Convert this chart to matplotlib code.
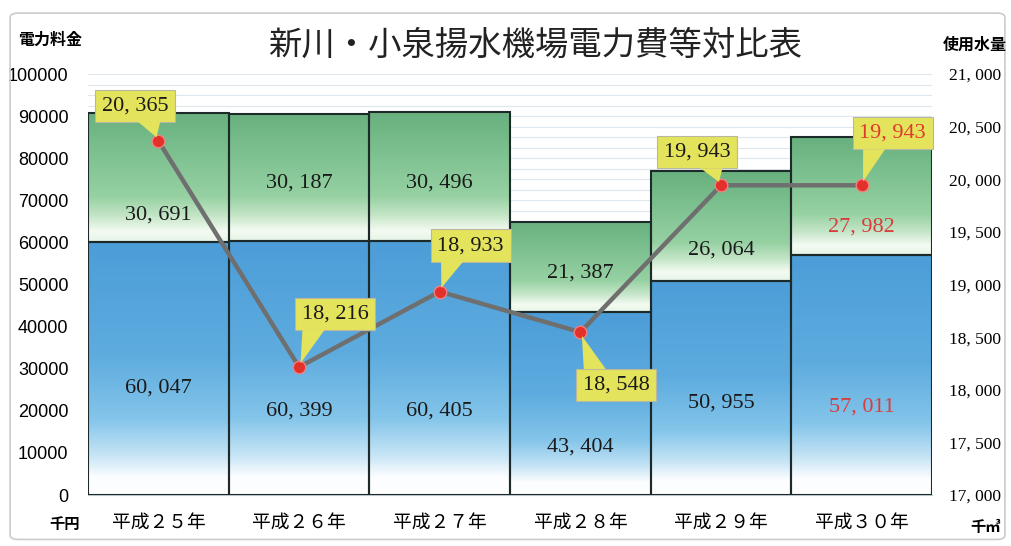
import numpy as np
import matplotlib
matplotlib.use('Agg')
import matplotlib.pyplot as plt
from matplotlib.colors import LinearSegmentedColormap
from matplotlib.patches import FancyBboxPatch, Polygon
from matplotlib.transforms import IdentityTransform

plt.rcParams['font.family'] = ['Noto Sans CJK JP', 'DejaVu Sans']

# ---------------- data ----------------
years = ['平成２５年', '平成２６年', '平成２７年', '平成２８年', '平成２９年', '平成３０年']
power_base = [60047, 60399, 60405, 43404, 50955, 57011]
power_extra = [30691, 30187, 30496, 21387, 26064, 27982]
water = [20365, 18216, 18933, 18548, 19943, 19943]
left_ticks = [0, 10000, 20000, 30000, 40000, 50000, 60000, 70000, 80000, 90000, 100000]
right_ticks = [17000, 17500, 18000, 18500, 19000, 19500, 20000, 20500, 21000]
title = '新川・小泉揚水機場電力費等対比表'

# ---------------- layout ----------------
base_label_y = [25500, 20000, 20000, 11400, 21800, 20900]
extra_label_y = [66500, 74100, 74100, 52700, 58200, 63700]
callout_offsets = [(-23, 35), (36, 53), (31, 46), (36, -53), (-24, 33), (31, 52)]
label_colors = ['#1a1a1a'] * 5 + ['#d83c3c']
callout_colors = ['#1a1a1a'] * 5 + ['#e03a2e']
YELLOW = '#e4e45c'

def fmt(v):
    return f"{v:,}".replace(',', ', ')

fig = plt.figure(figsize=(10.12, 5.46), dpi=100)
ax = fig.add_axes([0.087, 0.0934, 0.834, 0.771])

x = np.arange(len(years))
blue_cmap = LinearSegmentedColormap.from_list('b', [
    (0.0, '#ffffff'), (0.07, '#fbfdff'), (0.16, '#c4e3f5'), (0.3, '#84c5ea'),
    (0.55, '#5eacdf'), (1.0, '#4c9dd8')])
green_cmap = LinearSegmentedColormap.from_list('g', [
    (0.0, '#e6f4e6'), (0.08, '#f4fbf2'), (0.2, '#c4e5c7'), (0.35, '#96d1a2'),
    (0.7, '#7cc08f'), (1.0, '#68b07e')])
grad = np.linspace(0, 1, 256).reshape(-1, 1)

b1 = ax.bar(x, power_base, width=1.0, fill=False, edgecolor='#1e2a2a', lw=1.5, zorder=3)
b2 = ax.bar(x, power_extra, bottom=power_base, width=1.0, fill=False,
            edgecolor='#1e2a2a', lw=1.5, zorder=3)
for bars, cmap in ((b1, blue_cmap), (b2, green_cmap)):
    for p in bars:
        x0, y0 = p.get_x(), p.get_y()
        ax.imshow(grad, extent=[x0, x0 + p.get_width(), y0, y0 + p.get_height()],
                  cmap=cmap, aspect='auto', origin='lower', zorder=2,
                  interpolation='bilinear')

for i in range(len(years)):
    ax.text(x[i], base_label_y[i], fmt(power_base[i]), ha='center', va='center',
            fontsize=16, family=['Liberation Serif'], color=label_colors[i], zorder=4)
    ax.text(x[i], extra_label_y[i], fmt(power_extra[i]), ha='center', va='center',
            fontsize=16, family=['Liberation Serif'], color=label_colors[i], zorder=4)

ax.set_xlim(-0.5, len(years) - 0.5)
ax.set_ylim(0, 100000)
ax.set_yticks(left_ticks)
ax.set_yticklabels([str(v) for v in left_ticks], family=['Liberation Sans'], fontsize=13)
ax.set_yticks(np.arange(0, 100001, 2500), minor=True)
ax.grid(which='minor', axis='y', color='#dfe7ee', lw=0.8)
ax.grid(which='major', axis='y', color='#dfe7ee', lw=0.8)
ax.set_axisbelow(True)
ax.set_xticks(x)
ax.set_xticklabels(years, fontsize=13.5)
ax.tick_params(axis='both', which='both', length=0)
ax.tick_params(axis='y', pad=14)
ax.tick_params(axis='x', pad=12)
for s in ax.spines.values():
    s.set_visible(False)
ax.spines['bottom'].set_visible(True)
ax.spines['bottom'].set_color('#b8c4cc')

ax2 = ax.twinx()
ax2.set_ylim(17000, 21000)
ax2.set_yticks(right_ticks)
ax2.set_yticklabels([fmt(v) for v in right_ticks], family=['Liberation Serif'], fontsize=12.5)
ax2.tick_params(length=0, pad=12)
for s in ax2.spines.values():
    s.set_visible(False)
ax2.plot(x, water, color='#6f6f6f', lw=3.2, zorder=5)
ax2.plot(x, water, ls='none', marker='o', ms=9, mfc='#e3302b', mec='#f08080',
         mew=1.0, zorder=6)

for i in range(len(years)):
    dx, dy = callout_offsets[i]
    ax2.annotate(fmt(water[i]), xy=(x[i], water[i]), xytext=(dx, dy),
                 textcoords='offset pixels', ha='center', va='center',
                 fontsize=16, family=['Liberation Serif'], color=callout_colors[i],
                 bbox=dict(boxstyle='square,pad=0.3', fc=YELLOW, ec='#b8b8a0', lw=0.8),
                 zorder=7)
    # pointer triangle (display pixels)
    px, py = ax2.transData.transform((x[i], water[i]))
    cx, cy = px + dx, py + dy
    edge_y = cy - 17.5 if dy > 0 else cy + 17.5
    bx = px + 0.4 * dx
    vec = np.array([px - bx, py - edge_y])
    apex = np.array([px, py]) - vec / np.linalg.norm(vec) * 4
    inside = 1.5 if dy > 0 else -1.5
    tri = Polygon([(bx - 11, edge_y + inside), (bx + 11, edge_y + inside), tuple(apex)],
                  closed=True, fc=YELLOW, ec='none', transform=IdentityTransform(),
                  zorder=8, clip_on=False)
    ax2.add_patch(tri)

fig.text(0.529, 0.918, title, ha='center', va='center', fontsize=24, color='#222222')
fig.text(0.049, 0.927, '電力料金', ha='center', va='center', fontsize=11.5, fontweight='bold')
fig.text(0.963, 0.918, '使用水量', ha='center', va='center', fontsize=11.5, fontweight='bold')
fig.text(0.064, 0.04, '千円', ha='center', va='center', fontsize=11, fontweight='bold')
fig.text(0.974, 0.034, '千㎥', ha='center', va='center', fontsize=11, fontweight='bold')

fig.patches.append(FancyBboxPatch((0.01, 0.012), 0.983, 0.964,
                                  boxstyle='round,pad=0,rounding_size=0.008',
                                  transform=fig.transFigure, fill=False,
                                  ec='#c8cccc', lw=1.2))

fig.savefig('out.png', dpi=100)
